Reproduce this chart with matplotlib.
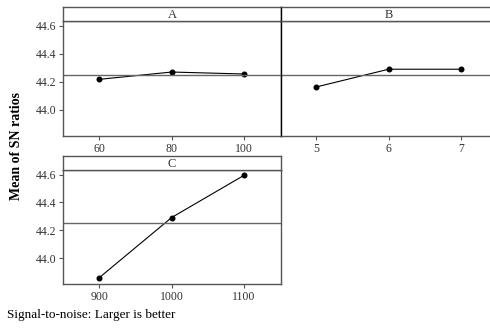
import matplotlib
matplotlib.use("Agg")
import matplotlib.pyplot as plt

plt.rcParams['font.family'] = ['Liberation Serif', 'DejaVu Serif']

# factor levels and mean SN ratios
a_levels = [60, 80, 100]
a_sn = [44.218, 44.270, 44.256]
b_levels = [5, 6, 7]
b_sn = [44.164, 44.290, 44.290]
c_levels = [900, 1000, 1100]
c_sn = [43.860, 44.292, 44.595]
grand_mean = 44.25
y_ticks = [44.0, 44.2, 44.4, 44.6]

W, H = 490., 328.
fig = plt.figure(figsize=(4.9, 3.28), dpi=100)

def fr(x0, x1, ytop, ybot):
    # pixel box -> figure fraction rect
    return [x0 / W, 1 - ybot / H, (x1 - x0) / W, (ybot - ytop) / H]

frame_col = '#555555'

def panel(rect, strip_rect, levels, sn, title, xlim, show_y, left_black=False):
    ax = fig.add_axes(rect)
    ax.plot(levels, sn, color='black', lw=0.8, marker='o', ms=3.3)
    ax.axhline(grand_mean, color='#666666', lw=1.0)
    ax.set_xlim(*xlim)
    ax.set_ylim(43.815, 44.633)
    ax.set_xticks(levels)
    ax.set_xticklabels([str(v) for v in levels])
    ax.set_yticks(y_ticks)
    ax.set_yticklabels(['%.1f' % v for v in y_ticks])
    ax.tick_params(direction='out', length=3, width=0.8, color=frame_col,
                   labelsize=8.5, labelcolor='#333333', pad=2)
    for s in ax.spines.values():
        s.set_color(frame_col)
        s.set_linewidth(1.0)
    if left_black:
        ax.spines['left'].set_color('black')
    if not show_y:
        ax.tick_params(left=False, labelleft=False)
    st = fig.add_axes(strip_rect)
    st.set_xticks([])
    st.set_yticks([])
    for s in st.spines.values():
        s.set_color(frame_col)
        s.set_linewidth(1.0)
    if left_black:
        st.spines['left'].set_color('black')
    st.text(0.5, 0.45, title, ha='center', va='center', fontsize=9,
            color='#333333', transform=st.transAxes)
    return ax

panel(fr(63, 281, 21, 136), fr(63, 281, 7, 21), a_levels, a_sn, 'A',
      (50, 110.2), True)
panel(fr(281, 497, 21, 136), fr(281, 497, 7, 21), b_levels, b_sn, 'B',
      (4.51, 7.5), False, left_black=True)
panel(fr(63, 281, 170, 284), fr(63, 281, 156, 170), c_levels, c_sn, 'C',
      (850, 1151), True)

fig.text(17 / W, 1 - 146 / H, 'Mean of SN ratios', rotation=90, ha='center',
         va='center', fontsize=10, fontweight='bold')
fig.text(7 / W, 1 - 315 / H, 'Signal-to-noise: Larger is better', ha='left',
         va='center', fontsize=9.5)

fig.savefig('out.png', dpi=100)
